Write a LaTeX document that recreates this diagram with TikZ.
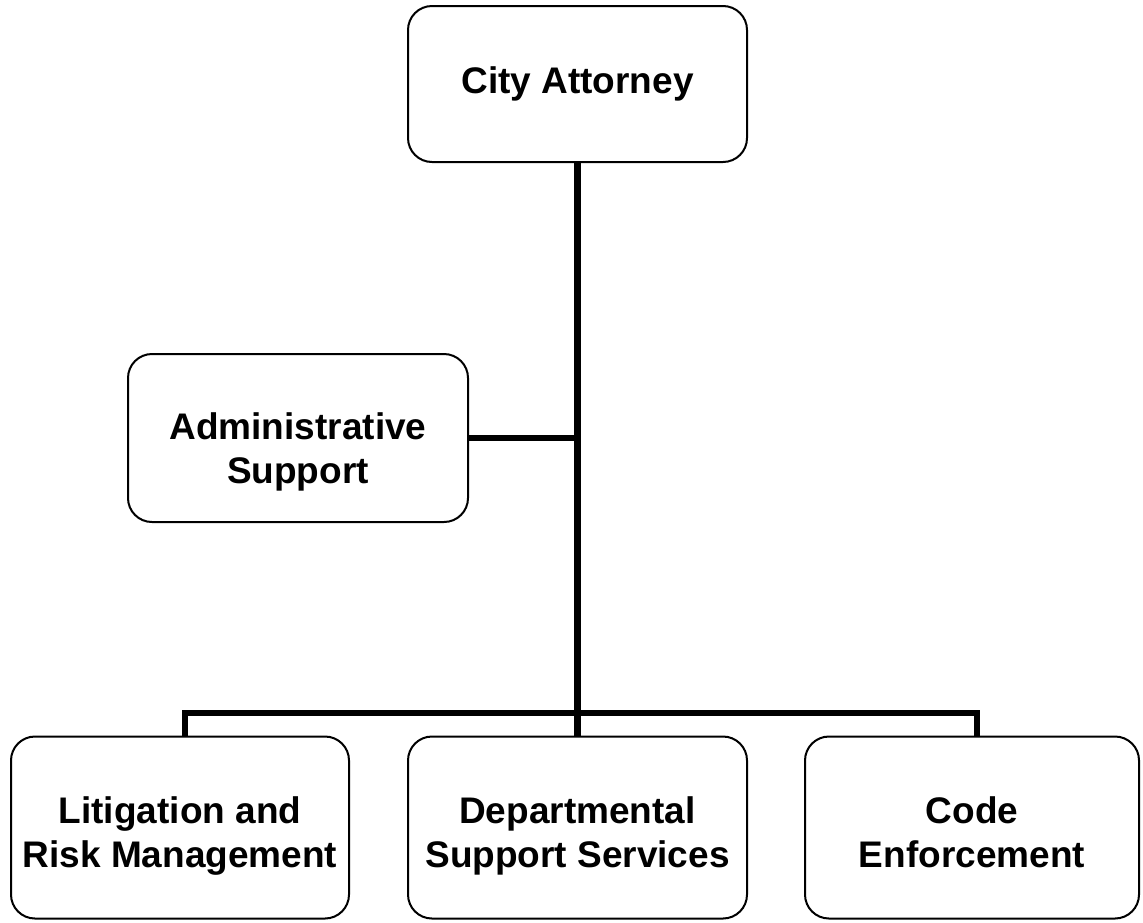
\documentclass[tikz,border=0pt]{standalone}
\usepackage{fontspec}
\setmainfont{Liberation Sans}

\begin{document}
\begin{tikzpicture}[x=0.5pt,y=-0.5pt,
  office/.style={draw,line width=1pt,rounded corners=12pt,align=center,
    inner sep=0pt,text depth=4pt,font=\bfseries\fontsize{18.5}{22}\selectfont},
  branch/.style={line width=3.2pt}]
% The frame
\useasboundingbox (0,0) rectangle (1143,922);
% The offices
\node[office,text height=13pt,minimum width=169.5pt,minimum height=78pt] (attorney) at (577.5,84) {City Attorney};
\node[office,text height=49pt,minimum width=170pt,minimum height=84pt] (admin) at (298,438) {Administrative\\Support};
\node[office,text height=43.5pt,minimum width=169pt,minimum height=91pt] (litigation) at (180,827.5) {Litigation and\\Risk Management};
\node[office,text height=43.5pt,minimum width=169.5pt,minimum height=91pt] (departmental) at (577.5,827.5) {Departmental\\Support Services};
\node[office,text height=43.5pt,minimum width=167pt,minimum height=91pt] (enforcement) at (972,827.5) {Code\\Enforcement};
% The branches
\coordinate (fork) at (577.5,713);
\draw[branch] (attorney.south) -- (departmental.north);
\draw[branch] (admin.east) -- (admin.east -| attorney.south);
\draw[branch] ([xshift=2.5pt]litigation.north) |- (fork) -| ([xshift=2.5pt]enforcement.north);
\end{tikzpicture}
\end{document}
